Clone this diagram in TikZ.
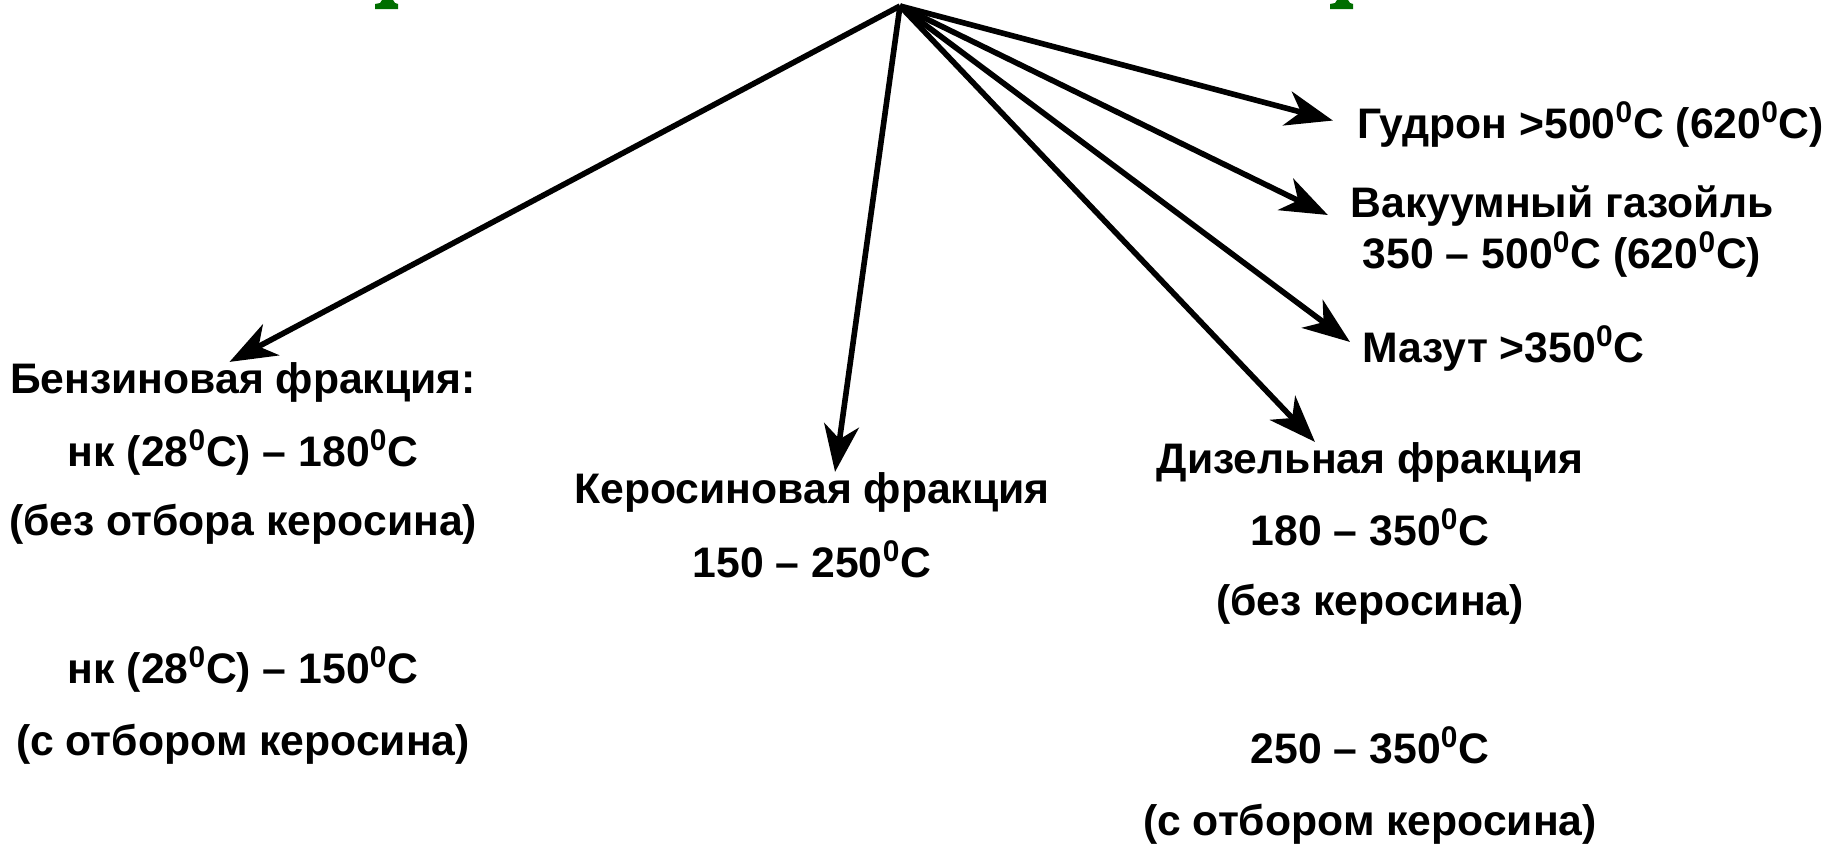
\documentclass[tikz,border=0pt]{standalone}
\usepackage{fontspec}
\setmainfont{Liberation Sans}
\usetikzlibrary{arrows.meta}
\definecolor{titlegreen}{RGB}{0,110,0}
\newcommand{\zdeg}{\textsuperscript{0}}

\begin{document}
\begin{tikzpicture}
[
    x=0.02cm, y=-0.02cm,
    frac/.style={font=\bfseries\fontsize{24.3}{29}\selectfont, inner sep=0pt,
        text height=17.5pt, text depth=4.9pt, anchor=base},
    side/.style={frac, anchor=base west},
    arr/.style={line width=3.2pt, -{Stealth[length=0.94cm, width=0.7cm, inset=0.28cm]}},
]
\useasboundingbox (0,0) rectangle (1825,845);

% pieces of the cut title
\fill[titlegreen] (375,9) -- (375,4) -- (380,3) -- (382,0) -- (393,0) -- (395,3) -- (398,4) -- (398,9) -- cycle;
\fill[titlegreen] (1330,9) -- (1330,4) -- (1335,3) -- (1337,0) -- (1348,0) -- (1350,3) -- (1353,4) -- (1353,9) -- cycle;

\coordinate (src) at (900,6);

% gasoline
\node[frac] (b1) at (243,393) {Бензиновая фракция:};
\node[frac] (b2) at (243,466) {нк (28\zdeg C) -- 180\zdeg C};
\node[frac] (b3) at (243,535) {(без отбора керосина)};
\node[frac] (b4) at (243,683) {нк (28\zdeg C) -- 150\zdeg C};
\node[frac] (b5) at (243,755) {(с отбором керосина)};

% kerosene
\node[frac] (k1) at (812,503) {Керосиновая фракция};
\node[frac] (k2) at (812,577) {150 -- 250\zdeg C};

% diesel
\node[frac] (d1) at (1370,473) {Дизельная фракция};
\node[frac] (d2) at (1370,545) {180 -- 350\zdeg C};
\node[frac] (d3) at (1370,615) {(без керосина)};
\node[frac] (d4) at (1370,763) {250 -- 350\zdeg C};
\node[frac] (d5) at (1370,835) {(с отбором керосина)};

% heavy part
\node[side] (gud) at (1357,138) {Гудрон >500\zdeg C (620\zdeg C)};
\node[frac] (vac) at (1562,217) {Вакуумный газойль};
\node[frac] (vac2) at (1562,268) {350 -- 500\zdeg C (620\zdeg C)};
\node[side] (maz) at (1362,362) {Мазут >350\zdeg C};

\draw[arr] (src) -- (b1.124);
\draw[arr] (src) -- (k1.41);
\draw[arr] (src) -- (d1.160);
\draw[arr, shorten >=0.3cm] (src) -- (maz.west);
\draw[arr, shorten >=0.5cm] (src) -- (vac.south west);
\draw[arr, shorten >=0.5cm] (src) -- (gud.west);
\end{tikzpicture}
\end{document}
